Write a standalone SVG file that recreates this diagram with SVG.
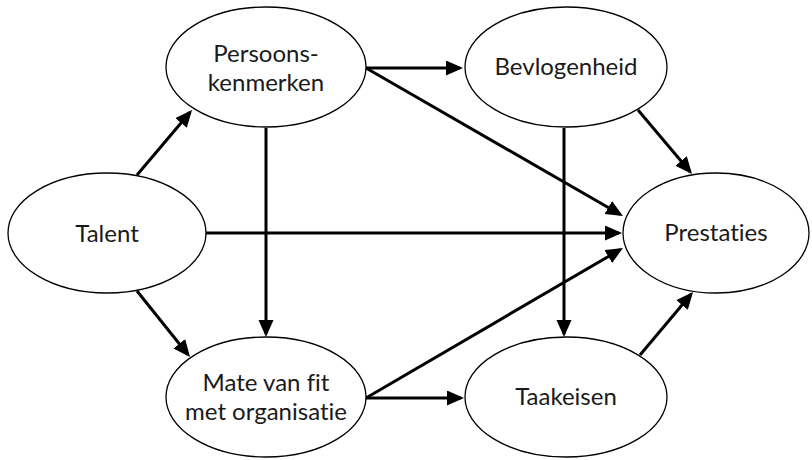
<svg xmlns="http://www.w3.org/2000/svg" width="812" height="460" viewBox="0 0 812 460">
<style>
.node ellipse{fill:#fff;stroke:#000;stroke-width:1.3}
.node text{font-family:Lato,"Noto Sans","Liberation Sans",sans-serif;font-size:24px;fill:#1a1a1a;text-anchor:middle;font-variant-ligatures:none;font-feature-settings:"liga" 0,"clig" 0,"dlig" 0}
.edges line{stroke:#000;stroke-width:3;marker-end:url(#ah)}
</style>
<defs>
<marker id="ah" markerUnits="userSpaceOnUse" markerWidth="18" markerHeight="16" refX="14" refY="7.5" orient="auto" viewBox="0 0 18 16">
<path d="M0,0 L17,7.5 L0,15 z" fill="#000"/>
</marker>
</defs>
<rect width="812" height="460" fill="#fff"/>
<g class="edges">
<line x1="137" y1="175" x2="190.1" y2="112.3"/>
<line x1="137" y1="291" x2="188.1" y2="354.7"/>
<line x1="206" y1="233" x2="619" y2="233"/>
<line x1="366" y1="68" x2="460" y2="68"/>
<line x1="366" y1="68" x2="620.4" y2="214.5"/>
<line x1="266" y1="128" x2="266" y2="334"/>
<line x1="564" y1="128" x2="564" y2="334"/>
<line x1="638" y1="110" x2="690.1" y2="171.7"/>
<line x1="366" y1="398" x2="461" y2="398"/>
<line x1="366" y1="398" x2="620.4" y2="249.5"/>
<line x1="640" y1="355" x2="691.1" y2="294.3"/>
</g>
<g id="talent" class="node"><ellipse cx="107" cy="233" rx="99" ry="60"/><text x="107" y="242">Talent</text></g>
<g id="persoonskenmerken" class="node"><ellipse cx="266" cy="67" rx="100" ry="60"/><text x="266" y="62">Persoons-</text><text x="266" y="91">kenmerken</text></g>
<g id="bevlogenheid" class="node"><ellipse cx="566" cy="67" rx="101" ry="60"/><text x="566" y="75">Bevlogenheid</text></g>
<g id="prestaties" class="node"><ellipse cx="716" cy="233" rx="93" ry="60"/><text x="716" y="241">Prestaties</text></g>
<g id="matevanfit" class="node"><ellipse cx="266" cy="397" rx="100" ry="60"/><text x="266" y="391">Mate van fit</text><text x="266" y="420">met organisatie</text></g>
<g id="taakeisen" class="node"><ellipse cx="566" cy="397" rx="101" ry="60"/><text x="566" y="405">Taakeisen</text></g>
</svg>
